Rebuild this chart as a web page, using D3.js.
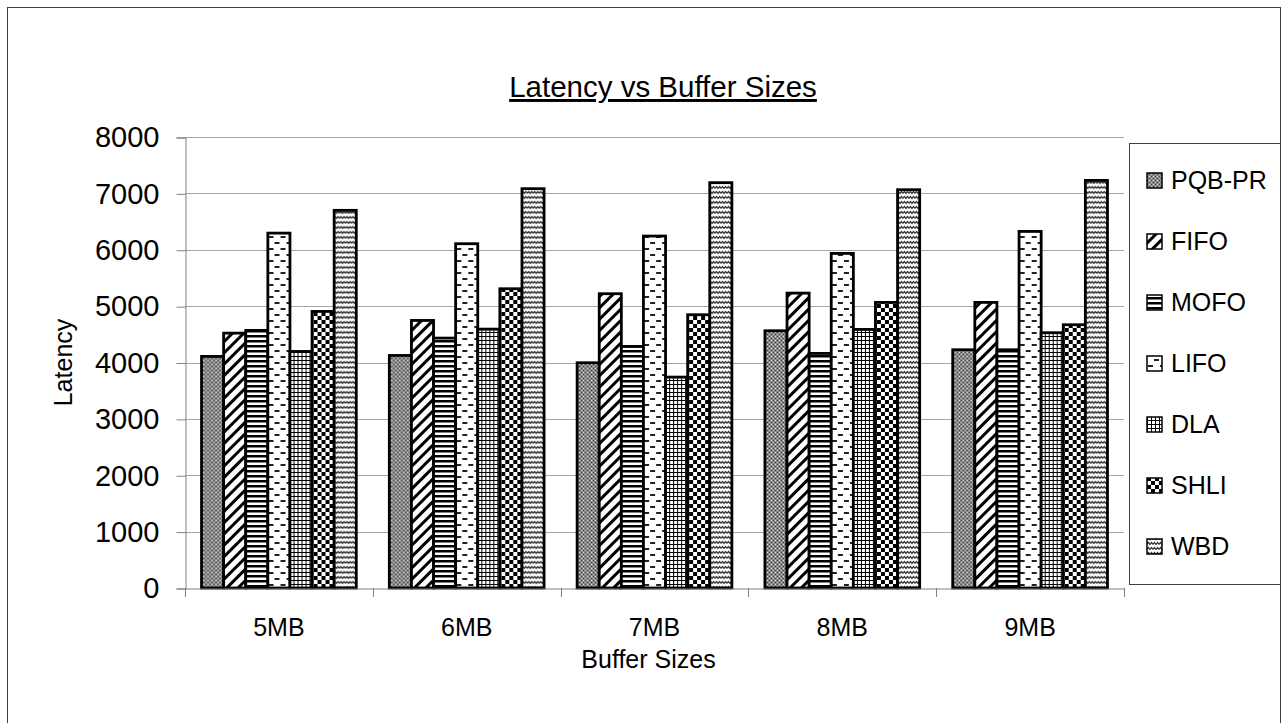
<!DOCTYPE html>
<html>
<head>
<meta charset="utf-8">
<script src="https://cdn.jsdelivr.net/npm/d3@7"></script>
<style>
  html, body { margin: 0; padding: 0; background: #fff; }
  svg { display: block; font-family: "Liberation Sans", Arial, sans-serif; }
</style>
</head>
<body>
<svg id="chart" width="1286" height="723"></svg>
<script>
const categories = ["5MB", "6MB", "7MB", "8MB", "9MB"];
const seriesNames = ["PQB-PR", "FIFO", "MOFO", "LIFO", "DLA", "SHLI", "WBD"];
const pqbpr = [4108, 4125, 3995, 4563, 4226];
const fifo  = [4521, 4746, 5220, 5231, 5066];
const mofo  = [4569, 4433, 4285, 4161, 4226];
const lifo  = [6295, 6107, 6243, 5935, 6325];
const dla   = [4196, 4592, 3741, 4587, 4528];
const shli  = [4906, 5308, 4847, 5066, 4670];
const wbd   = [6699, 7083, 7190, 7065, 7230];
const yTicks = [0, 1000, 2000, 3000, 4000, 5000, 6000, 7000, 8000];
const chartTitle = "Latency vs Buffer Sizes";
const xTitle = "Buffer Sizes";
const yTitle = "Latency";

const seriesValues = [pqbpr, fifo, mofo, lifo, dla, shli, wbd];
const svg = d3.select("#chart");
const FONT = "'Liberation Sans', Arial, sans-serif";

// outer border
svg.append("rect").attr("x", 7.5).attr("y", 7.5).attr("width", 1273).attr("height", 760)
  .attr("fill", "none").attr("stroke", "#404040").attr("stroke-width", 1);

// ---------- patterns ----------
const defs = svg.append("defs");
function pat(id, w, h) {
  return defs.append("pattern").attr("id", id).attr("patternUnits", "userSpaceOnUse")
    .attr("width", w).attr("height", h);
}
let p = pat("p0", 4, 4);
p.append("rect").attr("width", 4).attr("height", 4).attr("fill", "#8a8a8a");
p.append("rect").attr("x", 0).attr("y", 0).attr("width", 1).attr("height", 1).attr("fill", "#3a3a3a");
p.append("rect").attr("x", 2).attr("y", 2).attr("width", 1).attr("height", 1).attr("fill", "#3a3a3a");
p.append("rect").attr("x", 2).attr("y", 0).attr("width", 1).attr("height", 1).attr("fill", "#e8e8e8");
p.append("rect").attr("x", 0).attr("y", 2).attr("width", 1).attr("height", 1).attr("fill", "#bdbdbd");
p = pat("p1", 8, 8).attr("patternTransform", "rotate(45)");
p.append("rect").attr("width", 8).attr("height", 8).attr("fill", "#fff");
p.append("rect").attr("width", 3).attr("height", 8).attr("fill", "#000");
p = pat("p2", 5, 5);
p.append("rect").attr("width", 5).attr("height", 5).attr("fill", "#fff");
p.append("rect").attr("width", 5).attr("height", 2.5).attr("fill", "#000");
p = pat("p3", 12, 12);
p.append("rect").attr("width", 12).attr("height", 12).attr("fill", "#fff");
p.append("rect").attr("x", 1).attr("y", 2).attr("width", 5).attr("height", 2).attr("fill", "#222");
p.append("rect").attr("x", 7).attr("y", 8).attr("width", 5).attr("height", 2).attr("fill", "#222");
p = pat("p4", 4, 4);
p.append("rect").attr("width", 4).attr("height", 4).attr("fill", "#fff");
p.append("rect").attr("width", 1).attr("height", 4).attr("fill", "#000");
p.append("rect").attr("width", 4).attr("height", 1).attr("fill", "#000");
p = pat("p5", 8, 8);
p.append("rect").attr("width", 8).attr("height", 8).attr("fill", "#fff");
p.append("rect").attr("width", 4).attr("height", 4).attr("fill", "#000");
p.append("rect").attr("x", 4).attr("y", 4).attr("width", 4).attr("height", 4).attr("fill", "#000");
p = pat("p6", 6, 5);
p.append("rect").attr("width", 6).attr("height", 5).attr("fill", "#fff");
p.append("path").attr("d", "M0,3.5 L1.5,1.5 L3,3.5 L4.5,1.5 L6,3.5").attr("fill", "none")
  .attr("stroke", "#222").attr("stroke-width", 1.2);

const patIds = ["p0", "p1", "p2", "p3", "p4", "p5", "p6"];

// ---------- scales ----------
const plotL = 185, plotR = 1124, plotT = 137, plotB = 588;
const pad = 0.176;
const x0 = d3.scaleBand().domain(categories).range([plotL, plotR])
  .paddingInner(pad).paddingOuter(pad / 2);
const x1 = d3.scaleBand().domain(seriesNames).range([0, x0.bandwidth()]);
const y = d3.scaleLinear().domain([0, 8000]).range([plotB, plotT]);

// gridlines
svg.append("g").selectAll("line").data(yTicks.filter(d => d > 0)).join("line")
  .attr("x1", plotL).attr("x2", plotR)
  .attr("y1", d => Math.round(y(d)) + 0.5).attr("y2", d => Math.round(y(d)) + 0.5)
  .attr("stroke", "#a6a6a6").attr("stroke-width", 1);

// y axis
const yAxis = svg.append("g").attr("transform", `translate(${plotL + 0.5},0.5)`)
  .call(d3.axisLeft(y).tickValues(yTicks).tickSize(9).tickPadding(17).tickFormat(d3.format("d")));
yAxis.select(".domain").attr("stroke", "#808080");
yAxis.selectAll(".tick line").attr("stroke", "#808080");
yAxis.selectAll("text").attr("font-family", FONT).attr("font-size", 29).attr("fill", "#000");

// bars
const groups = svg.append("g").selectAll("g").data(categories).join("g")
  .attr("transform", d => `translate(${x0(d)},0)`);
groups.selectAll("rect").data((c, ci) => seriesNames.map((s, si) => ({ s, si, v: seriesValues[si][ci] })))
  .join("rect")
  .attr("x", d => x1(d.s))
  .attr("y", d => y(d.v))
  .attr("width", x1.bandwidth())
  .attr("height", d => y(0) - y(d.v))
  .attr("fill", d => `url(#${patIds[d.si]})`)
  .attr("stroke", "#000").attr("stroke-width", 2.8);

// x axis
const xAxis = svg.append("g").attr("transform", `translate(0,${plotB + 0.5})`)
  .call(d3.axisBottom(x0).tickSize(0).tickPadding(30));
xAxis.select(".domain").attr("stroke", "#808080");
xAxis.selectAll("text").attr("font-family", FONT).attr("font-size", 25).attr("fill", "#000");
const step = x0.step();
const bounds = categories.map(c => x0(c) - step * pad / 2).concat([plotR]);
svg.append("g").selectAll("line").data(bounds).join("line")
  .attr("x1", d => Math.round(d) + 0.5).attr("x2", d => Math.round(d) + 0.5)
  .attr("y1", plotB).attr("y2", plotB + 9)
  .attr("stroke", "#808080");

// titles
svg.append("text").attr("x", 663).attr("y", 97).attr("text-anchor", "middle")
  .attr("font-family", FONT).attr("font-size", 29.5).attr("fill", "#000")
  .attr("text-decoration", "underline").text(chartTitle);

svg.append("text").attr("x", (plotL + plotR) / 2 - 6).attr("y", 668).attr("text-anchor", "middle")
  .attr("font-family", FONT).attr("font-size", 25).attr("fill", "#000").text(xTitle);

svg.append("text").attr("transform", `translate(72,${(plotT + plotB) / 2})rotate(-90)`)
  .attr("text-anchor", "middle")
  .attr("font-family", FONT).attr("font-size", 25).attr("fill", "#000").text(yTitle);

// legend
svg.append("rect").attr("x", 1129.5).attr("y", 143.5).attr("width", 151).attr("height", 441)
  .attr("fill", "#fff").attr("stroke", "#404040").attr("stroke-width", 1);
const leg = svg.append("g").selectAll("g").data(seriesNames).join("g")
  .attr("transform", (d, i) => `translate(1147,${180 + i * 61})`);
leg.append("rect").attr("x", 0).attr("y", -7).attr("width", 15).attr("height", 15)
  .attr("fill", (d, i) => `url(#${patIds[i]})`).attr("stroke", "#000").attr("stroke-width", 1.5);
leg.append("text").attr("x", 24).attr("y", 0).attr("dy", "0.36em")
  .attr("font-family", FONT).attr("font-size", 25).attr("fill", "#000").text(d => d);
</script>
</body>
</html>
